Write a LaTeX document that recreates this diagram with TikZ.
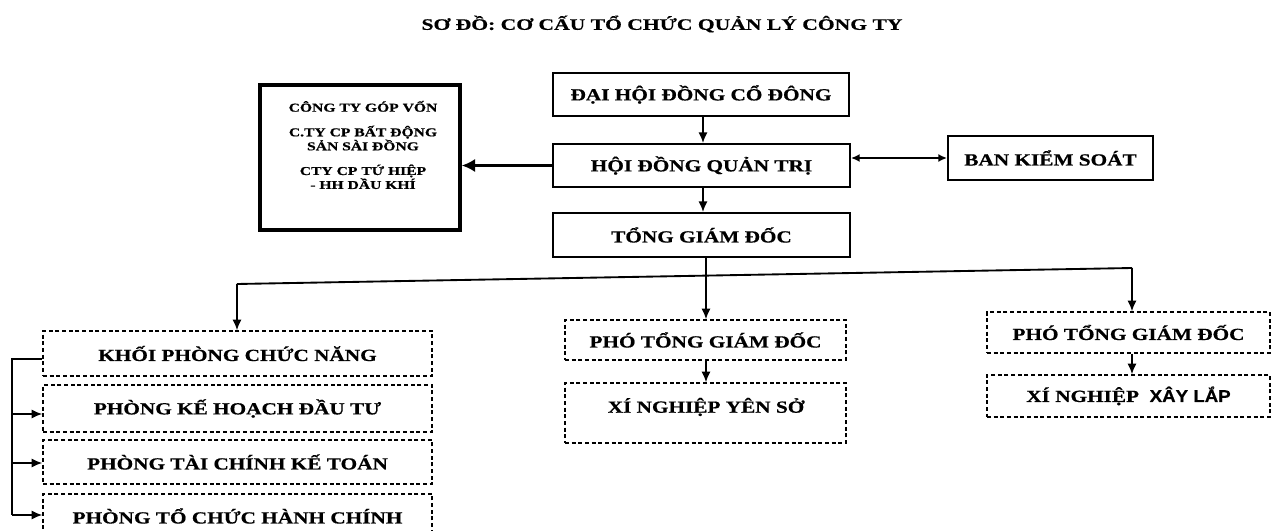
\documentclass[tikz,border=0pt]{standalone}
\usepackage{fontspec}
\setmainfont{Liberation Serif}
\newfontfamily\bx{Liberation Serif}[FakeStretch=1.25,FakeBold=0.6]
\newfontfamily\tx{Liberation Serif}[FakeStretch=1.35,FakeBold=0.6]
\newfontfamily\gx{Liberation Serif}[FakeStretch=1.3,FakeBold=0.7]
\newfontfamily\sx{Liberation Sans}[FakeStretch=1.1,FakeBold=0.6]
\usetikzlibrary{arrows.meta}
\begin{document}
\begin{tikzpicture}[x=0.75pt,y=-0.75pt,
  boxtext/.style={font=\bx\bfseries\fontsize{12.75}{15}\selectfont},
  solidbox/.style={draw, line width=1.5pt, inner sep=0pt, boxtext},
  dashbox/.style={draw, line width=1.1pt, dash pattern=on 3pt off 2pt, inner sep=0pt, boxtext},
  conn/.style={line width=1.4pt},
  arr/.style={conn, -{Latex[length=8pt,width=7pt]}},
  dblarr/.style={conn, {Latex[length=6.5pt,width=6pt]}-{Latex[length=6.5pt,width=6pt]}},
  thickarr/.style={line width=2.6pt, -{Latex[length=10pt,width=10pt]}},
]
\useasboundingbox[fill=white] (0,0) rectangle (1274,531);

% title
\node[font=\tx\bfseries\fontsize{12}{14}\selectfont] (title) at (662,24) {SƠ ĐỒ: CƠ CẤU TỔ CHỨC QUẢN LÝ CÔNG TY};

% top column
\node[solidbox, minimum width=222pt, minimum height=32.25pt] (dh) at (701,94.5) {ĐẠI HỘI ĐỒNG CỔ ĐÔNG};
\node[solidbox, minimum width=222.75pt, minimum height=32.25pt] (hd) at (701.5,165.5) {HỘI ĐỒNG QUẢN TRỊ};
\node[solidbox, minimum width=153.75pt, minimum height=33pt] (bks) at (1050.5,158) {BAN KIỂM SOÁT};
\node[solidbox, minimum width=222.75pt, minimum height=33pt] (tgd) at (701.5,235) {TỔNG GIÁM ĐỐC};

% associated companies
\node[draw, line width=2.6pt, minimum width=150pt, minimum height=108.75pt] (gv) at (360,157.5) {};
\node[align=center, font=\gx\bfseries\fontsize{9}{10.5}\selectfont] (gvtext) at (363,145)
  {CÔNG TY GÓP VỐN\\[8pt]C.TY CP BẤT ĐỘNG\\SẢN SÀI ĐỒNG\\[8pt]CTY CP TỨ HIỆP\\- HH DẦU KHÍ};

% functional departments
\node[dashbox, minimum width=291.75pt, minimum height=33.75pt] (kp) at (237.5,353.5) {KHỐI PHÒNG CHỨC NĂNG};
\node[dashbox, minimum width=291.75pt, minimum height=35.25pt] (pkh) at (237.5,408.5) {PHÒNG KẾ HOẠCH ĐẦU TƯ};
\node[dashbox, minimum width=291.75pt, minimum height=33pt] (ptc) at (237.5,462) {PHÒNG TÀI CHÍNH KẾ TOÁN};
\node[dashbox, minimum width=291.75pt, minimum height=33pt] (ptchc) at (237.5,516) {PHÒNG TỔ CHỨC HÀNH CHÍNH};

% middle branch
\node[dashbox, minimum width=210.75pt, minimum height=30pt] (p1) at (705.5,340) {PHÓ TỔNG GIÁM ĐỐC};
\node[dashbox, minimum width=210.75pt, minimum height=45pt] (xys) at (705.5,413) {};
\node[boxtext] (xystext) at (706,407) {XÍ NGHIỆP YÊN SỞ};

% right branch
\node[dashbox, minimum width=212.25pt, minimum height=30.75pt] (p2) at (1128.5,332.5) {PHÓ TỔNG GIÁM ĐỐC};
\node[dashbox, minimum width=212.25pt, minimum height=31.5pt] (xxl) at (1128.5,396) {XÍ NGHIỆP\ \ {\sx\bfseries XÂY LẮP}};

% helper coordinates
\coordinate (cA) at (703,0);
\coordinate (cB) at (706,0);
\coordinate (bL) at (237,284);
\coordinate (bR) at (1132,268);
\coordinate (bk) at (12,359);
\coordinate (a1) at (12,414);
\coordinate (a2) at (12,463);
\coordinate (a3) at (12,515);

% connectors
\draw[arr] (cA |- dh.south) -- (cA |- hd.north);
\draw[arr] (cA |- hd.south) -- (cA |- tgd.north);
\draw[thickarr] (hd.west) -- (gv.east |- hd.west);
\draw[dblarr] (hd.east |- bks.west) -- (bks.west);
\draw[arr] (cB |- tgd.south) -- (cB |- p1.north);
\draw[conn] (bL) -- (bR);
\draw[arr] (bL) -- (bL |- kp.north);
\draw[arr] (bR) -- (bR |- p2.north);
\draw[arr] (cB |- p1.south) -- (cB |- xys.north);
\draw[arr] (bR |- p2.south) -- (bR |- xxl.north);
\draw[conn] (kp.west |- bk) -- (bk) -- (a3);
\draw[arr] (a1) -- (a1 -| pkh.west);
\draw[arr] (a2) -- (a2 -| ptc.west);
\draw[arr] (a3) -- (a3 -| ptchc.west);
\end{tikzpicture}
\end{document}
